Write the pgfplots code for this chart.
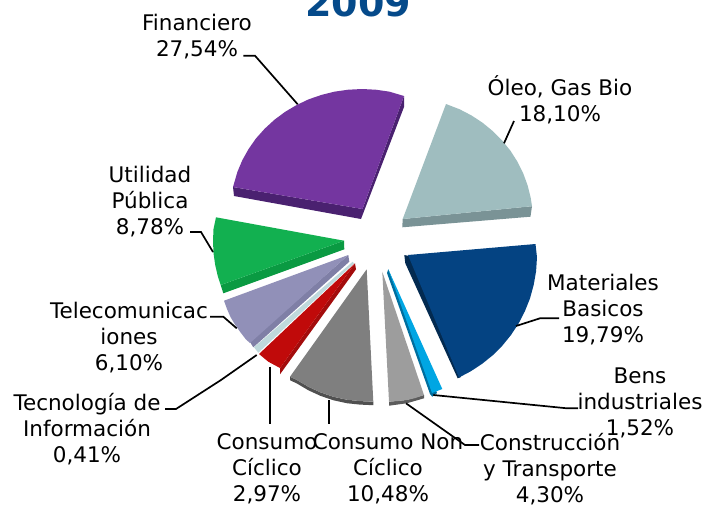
\documentclass[border=0pt]{standalone}
\usepackage{fontspec}
\setmainfont{DejaVu Sans}
\usepackage{pgfplots}
\pgfplotsset{compat=1.18}

\definecolor{purpleF}{HTML}{7436A0}
\definecolor{purpleS}{HTML}{4A2170}
\definecolor{tealF}{HTML}{9FBDBF}
\definecolor{tealS}{HTML}{7A9396}
\definecolor{blueF}{HTML}{044382}
\definecolor{blueS}{HTML}{032A50}
\definecolor{skyF}{HTML}{00A6E3}
\definecolor{skyS}{HTML}{006E9E}
\definecolor{lgrayF}{HTML}{9D9D9D}
\definecolor{lgrayS}{HTML}{5C5C5C}
\definecolor{mgrayF}{HTML}{7F7F7F}
\definecolor{mgrayS}{HTML}{505050}
\definecolor{redF}{HTML}{C00A0A}
\definecolor{redS}{HTML}{A30C0C}
\definecolor{paleF}{HTML}{BFD9DC}
\definecolor{lavF}{HTML}{9190B8}
\definecolor{lavS}{HTML}{7F7FA6}
\definecolor{greenF}{HTML}{12B050}
\definecolor{greenS}{HTML}{0A9A42}
\definecolor{titleblue}{HTML}{054A8A}

\tikzset{
    leader/.style={draw=black, line width=1.7pt, fill=none},
    lbl/.style={align=center, inner sep=0pt, text=black, font=\fontsize{21.5}{26}\selectfont},
}

\begin{document}
\begin{tikzpicture}
\begin{axis}[
    name=a,
    scale only axis,
    width=705pt, height=507pt,
    xmin=0, xmax=705,
    ymin=0, ymax=507,
    y dir=reverse,
    hide axis,
    clip=false,
    every axis plot/.append style={no markers, draw=none},
]
% wedges, in picture pixels
% purple
\addplot[fill=purpleS] coordinates {(233,187) (362.5,209) (404,96) (404,107) (361,219) (234,196)};
\addplot[fill=purpleF] coordinates {(404,96) (389.2,91.6) (375.7,89.7) (362,89) (348.3,89.7) (334.8,91.6) (321.5,94.9) (308.7,99.3) (296.5,105.1) (285,111.9) (274.4,119.8) (264.7,128.7) (256,138.4) (248.6,149) (242.3,160.2) (237.4,171.9) (233,187) (362.5,209)};
% oleo
\addplot[fill=tealS] coordinates {(402.7,219) (532,206.2) (530.5,216.7) (402.3,227.3)};
\addplot[fill=tealF] coordinates {(446,104) (459.7,109.3) (471.6,115.5) (482.8,122.9) (493,131.3) (502.3,140.6) (510.5,150.8) (517.5,161.8) (523.2,173.3) (527.6,185.3) (530.7,197.8) (532,206.2) (402.7,219)};
% materiales
\addplot[fill=blueS] coordinates {(404.3,255) (405.3,263.3) (457.7,378.3) (461,377) (409,256)};
\addplot[fill=blueF] coordinates {(535.5,244) (537,257.3) (536.1,271.2) (533.7,284.9) (530,298.4) (524.9,311.2) (518.6,323.5) (511,335) (502.3,345.7) (492.6,355.4) (482,363.9) (470.6,371.4) (459,377.5) (408,255)};
% bens
\addplot[fill=skyS] coordinates {(388.3,269.3) (387,273) (430,394) (432.3,396.7) (437,393)};
\addplot[fill=skyF] coordinates {(388.3,269.3) (442.3,389) (432,393)};
% construccion
\addplot[fill=lgrayS] coordinates {(389,401.7) (406.7,400) (424,395) (424,398.3) (406.7,403.3) (389,405.7)};
\addplot[fill=lgrayF] coordinates {(382.3,271.7) (424,395) (415.5,398) (406.7,400) (398,401) (389,401.7)};
% consumo non ciclico
\addplot[fill=mgrayS] coordinates {(290,376.7) (296.9,380) (308.6,386.9) (320.8,392.5) (333.6,396.8) (346.7,399.7) (360,401.1) (373.3,401.7) (373.3,405.2) (360,404.6) (346.7,403.2) (333.6,400.3) (320.8,396) (308.6,390.4) (296.9,383.5) (290,380.2)};
\addplot[fill=mgrayF] coordinates {(366.7,269.3) (373.3,401.7) (360,401.1) (346.7,399.7) (333.6,396.8) (320.8,392.5) (308.6,386.9) (296.9,380) (290,376.7)};
% consumo ciclico
\addplot[fill=redS] coordinates {(355,263.3) (356,269.3) (280,374.3) (280,368)};
\addplot[fill=redF] coordinates {(355,263.3) (280,368) (268.3,361.7) (259,354)};
% tecnologia
\addplot[fill=paleF] coordinates {(352.7,261.7) (254,347.3) (258.3,352.7) (354,263.5)};
% telecom
\addplot[fill=lavS] coordinates {(348.3,255) (349.3,261.7) (253.3,347.3) (250,342)};
\addplot[fill=lavF] coordinates {(348.3,255) (224,300.7) (227,309) (230.5,317) (235,324.5) (240,331.7) (246,339.5) (250,343)};
% utilidad
\addplot[fill=greenS] coordinates {(344,240.7) (344.3,249.3) (223.3,293.3) (220.7,285)};
\addplot[fill=greenF] coordinates {(216,217.3) (344,240.7) (220.7,285) (218,277) (215.2,265) (213.5,253) (213,241) (213.5,229)};

% leader lines
\addplot[leader] coordinates {(243.3,55.7) (255,55.7) (297.7,104.3)};
\addplot[leader] coordinates {(514,121) (504,143.3)};
\addplot[leader] coordinates {(516,326) (540,318.3) (559,318.3)};
\addplot[leader] coordinates {(433.3,395) (567,408.3) (578,408.3)};
\addplot[leader] coordinates {(406,403.3) (465,445) (479,445)};
\addplot[leader] coordinates {(165,409) (176,409) (221,380) (256.7,355)};
\addplot[leader] coordinates {(270,366.7) (270,424)};
\addplot[leader] coordinates {(329.3,400) (329.3,424)};
\addplot[leader] coordinates {(210,316.7) (223.3,316.7) (236.7,328.3)};
\addplot[leader] coordinates {(190,232) (201,232) (213,252)};

% labels
\node[lbl] at (axis cs:197,37) {Financiero\\27,54\%};
\node[lbl] at (axis cs:560,100) {Óleo, Gas Bio\\18,10\%};
\node[lbl] at (axis cs:603,310) {Materiales\\Basicos\\19,79\%};
\node[lbl] at (axis cs:640,403) {Bens\\industriales\\1,52\%};
\node[lbl] at (axis cs:550,469) {Construcción\\y Transporte\\4,30\%};
\node[lbl] at (axis cs:388,469) {Consumo Non\\Cíclico\\10,48\%};
\node[lbl] at (axis cs:267,469) {Consumo\\Cíclico\\2,97\%};
\node[lbl] at (axis cs:87,429) {Tecnología de\\Información\\0,41\%};
\node[lbl] at (axis cs:129,338) {Telecomunicac\\iones\\6,10\%};
\node[lbl] at (axis cs:150,201.5) {Utilidad\\Pública\\8,78\%};
\node[anchor=base, text=titleblue, font=\fontsize{38}{42}\selectfont\bfseries] at (axis cs:358,16) {2009};
\end{axis}
\pgfresetboundingbox
\path[use as bounding box] (a.south west) rectangle (a.north east);
\end{tikzpicture}
\end{document}
